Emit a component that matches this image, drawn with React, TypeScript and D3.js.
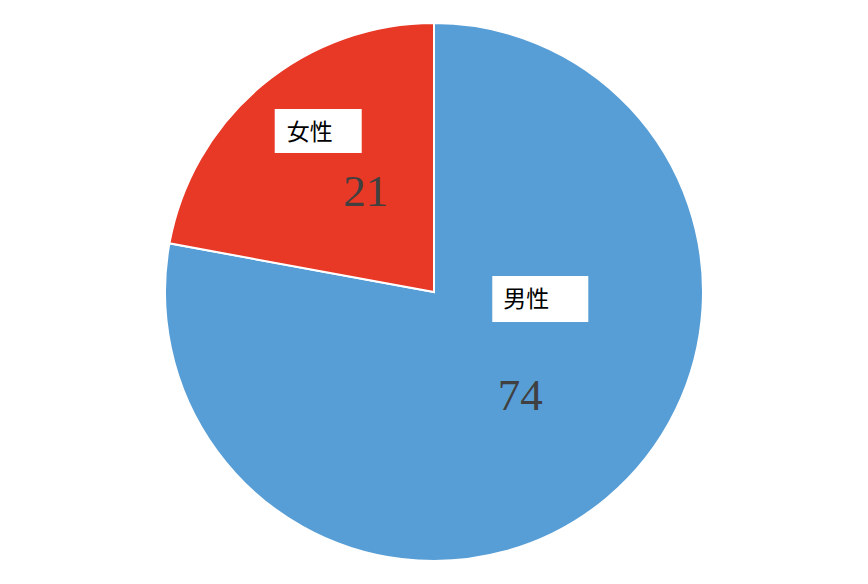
import { useEffect, useRef } from 'react';
import * as d3 from 'd3';

const categories = ['男性', '女性'];
const values = [74, 21];
const colors = ['#589ED6', '#E83826'];

const WIDTH = 868;
const HEIGHT = 584;

export default function App() {
  const svgRef = useRef<SVGSVGElement>(null);

  useEffect(() => {
    if (!svgRef.current) return;
    const svg = d3.select(svgRef.current);
    svg.selectAll('*').remove();

    const cx = 434;
    const cy = 292;
    const radius = 269;

    const data = categories.map((c, i) => ({ label: c, value: values[i], color: colors[i] }));

    const pie = d3.pie<{ label: string; value: number; color: string }>()
      .value((d) => d.value)
      .sort(null);

    const arc = d3.arc<d3.PieArcDatum<{ label: string; value: number; color: string }>>()
      .innerRadius(0)
      .outerRadius(radius);

    const labelArc = d3.arc<d3.PieArcDatum<{ label: string; value: number; color: string }>>()
      .innerRadius(radius * 0.6)
      .outerRadius(radius * 0.6);

    const g = svg.append('g').attr('transform', `translate(${cx}, ${cy})`);
    const arcs = pie(data);

    g.selectAll('path')
      .data(arcs)
      .join('path')
      .attr('d', arc)
      .attr('fill', (d) => d.data.color)
      .attr('stroke', '#fff')
      .attr('stroke-width', 2);

    // label layout relative to each slice's centroid (box + value text)
    const layout = [
      { box: [-45, -140, 96, 46], text: [-34, -109], val: [-17, -6] },
      { box: [-56, -59, 87, 44], text: [-44, -28], val: [35, 38] },
    ];

    arcs.forEach((a, i) => {
      const [x, y] = labelArc.centroid(a);
      const l = layout[i];
      const lg = g.append('g').attr('transform', `translate(${x}, ${y})`);
      lg.append('rect')
        .attr('x', l.box[0])
        .attr('y', l.box[1])
        .attr('width', l.box[2])
        .attr('height', l.box[3])
        .attr('fill', '#fff');
      lg.append('text')
        .attr('x', l.text[0])
        .attr('y', l.text[1])
        .attr('font-family', '"Noto Sans CJK JP", "Noto Sans CJK SC", sans-serif')
        .attr('font-size', 23)
        .attr('fill', '#000')
        .text(a.data.label);
      lg.append('text')
        .attr('x', l.val[0])
        .attr('y', l.val[1])
        .attr('text-anchor', 'middle')
        .attr('font-family', '"Liberation Serif", "DejaVu Serif", serif')
        .attr('font-size', 45)
        .attr('fill', '#404040')
        .text(a.data.value);
    });
  }, []);

  return (
    <svg
      ref={svgRef}
      width={WIDTH}
      height={HEIGHT}
      style={{ position: 'absolute', left: 0, top: 0, background: '#fff' }}
    />
  );
}
